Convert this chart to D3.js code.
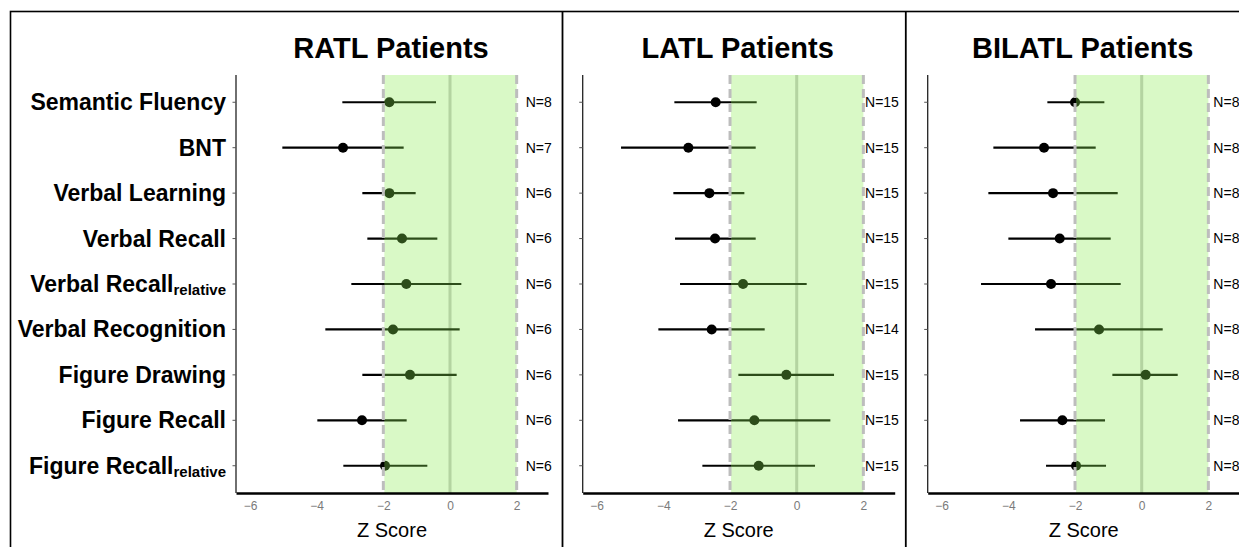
<!DOCTYPE html>
<html>
<head>
<meta charset="utf-8">
<script src="https://cdn.jsdelivr.net/npm/d3@7"></script>
<style>
  html, body { margin: 0; padding: 0; background: #fff; }
  svg { display: block; font-family: "Liberation Sans", Arial, Helvetica, sans-serif; }
</style>
</head>
<body>
<svg id="chart" width="1239" height="547"></svg>
<script>
// Neuropsychological test categories (top to bottom)
const labelMain = ["Semantic Fluency", "BNT", "Verbal Learning", "Verbal Recall", "Verbal Recall",
                   "Verbal Recognition", "Figure Drawing", "Figure Recall", "Figure Recall"];
const labelSub  = ["", "", "", "", "relative", "", "", "", "relative"];
const categories = labelMain.map((d, i) => d + (labelSub[i] ? "_" + labelSub[i] : ""));

// Group titles
const groups = ["RATL Patients", "LATL Patients", "BILATL Patients"];

// RATL: mean z score with lower / upper interval, and sample size
const ratlMean = [-1.82, -3.21, -1.82, -1.44, -1.31, -1.71, -1.20, -2.64, -1.95];
const ratlLow  = [-3.23, -5.03, -2.63, -2.48, -2.96, -3.74, -2.63, -3.98, -3.20];
const ratlHigh = [-0.42, -1.39, -1.03, -0.38,  0.34,  0.29,  0.20, -1.30, -0.68];
const ratlN    = [8, 7, 6, 6, 6, 6, 6, 6, 6];

// LATL
const latlMean = [-2.43, -3.25, -2.62, -2.45, -1.61, -2.55, -0.31, -1.27, -1.14];
const latlLow  = [-3.67, -5.27, -3.70, -3.65, -3.50, -4.15, -1.75, -3.56, -2.83];
const latlHigh = [-1.20, -1.23, -1.57, -1.23,  0.30, -0.96,  1.12,  1.01,  0.55];
const latlN    = [15, 15, 15, 15, 15, 14, 15, 15, 15];

// BILATL
const bilatlMean = [-2.00, -2.93, -2.66, -2.46, -2.72, -1.28,  0.12, -2.38, -1.97];
const bilatlLow  = [-2.83, -4.45, -4.60, -4.00, -4.82, -3.20, -0.88, -3.65, -2.87];
const bilatlHigh = [-1.12, -1.38, -0.72, -0.93, -0.63,  0.63,  1.08, -1.10, -1.07];
const bilatlN    = [8, 8, 8, 8, 8, 8, 8, 8, 8];

// x axis ticks and normal range
const xTicks = [-6, -4, -2, 0, 2];
const normalRange = [-2, 2];

const seriesList = [
  { mean: ratlMean, low: ratlLow, high: ratlHigh, n: ratlN },
  { mean: latlMean, low: latlLow, high: latlHigh, n: latlN },
  { mean: bilatlMean, low: bilatlLow, high: bilatlHigh, n: bilatlN }
];

// ---- layout ----
const svg = d3.select("#chart");
const plotLeft = [236, 582.7, 927.7];
const plotWidth = 312;
const plotTop = 75, plotBottom = 493;
const nLabelZ = [2.27, 2.05, 2.15];
const dividers = [562.5, 905.8];

const y = d3.scalePoint().domain(categories).range([plotTop, plotBottom]).padding(0.6);

// outer frame and panel separators
svg.append("rect")
  .attr("x", 10.5).attr("y", 11.5).attr("width", 1260).attr("height", 560)
  .attr("fill", "none").attr("stroke", "#000").attr("stroke-width", 1.6);
dividers.forEach(xd => {
  svg.append("line").attr("x1", xd).attr("x2", xd).attr("y1", 11.5).attr("y2", 560)
    .attr("stroke", "#000").attr("stroke-width", 1.8);
});

const BLACK = "#000";

groups.forEach((title, p) => {
  const s = seriesList[p];
  const x = d3.scaleLinear().domain([-6.42, 2.94]).range([plotLeft[p], plotLeft[p] + plotWidth]);
  const g = svg.append("g");

  // zero reference line
  g.append("line")
    .attr("x1", x(0)).attr("x2", x(0)).attr("y1", plotTop).attr("y2", plotBottom)
    .attr("stroke", "#c8c8c8").attr("stroke-width", 3);

  // interval segments
  g.selectAll("line.ci").data(categories).join("line")
    .attr("class", "ci")
    .attr("x1", (d, i) => x(s.low[i])).attr("x2", (d, i) => x(s.high[i]))
    .attr("y1", d => y(d)).attr("y2", d => y(d))
    .attr("stroke", BLACK).attr("stroke-width", 2.2);

  // mean points
  g.selectAll("circle.pt").data(categories).join("circle")
    .attr("class", "pt")
    .attr("cx", (d, i) => x(s.mean[i])).attr("cy", d => y(d))
    .attr("r", 5).attr("fill", BLACK);

  // translucent normal-range band laid over the marks
  g.append("rect")
    .attr("x", x(normalRange[0]) + 1).attr("width", x(normalRange[1]) - x(normalRange[0]) - 1)
    .attr("y", plotTop).attr("height", plotBottom - plotTop)
    .attr("fill", "rgb(139,238,80)").attr("fill-opacity", 0.324);

  // dashed range limits
  normalRange.forEach(v => {
    g.append("line")
      .attr("x1", x(v)).attr("x2", x(v)).attr("y1", plotTop).attr("y2", plotBottom)
      .attr("stroke", "#bdbdbd").attr("stroke-width", 3)
      .attr("stroke-dasharray", "9,5");
  });

  // sample size labels
  g.selectAll("text.n").data(categories).join("text")
    .attr("class", "n")
    .attr("x", x(nLabelZ[p])).attr("y", d => y(d))
    .attr("dy", "0.35em")
    .attr("font-size", 14).attr("fill", "#000")
    .text((d, i) => "N=" + s.n[i]);

  // y axis
  const yAxis = g.append("g").attr("transform", `translate(${plotLeft[p]},0)`);
  yAxis.append("line").attr("x1", 0).attr("x2", 0).attr("y1", plotTop).attr("y2", plotBottom)
    .attr("stroke", "#222").attr("stroke-width", 1.3);
  yAxis.selectAll("line.tk").data(categories).join("line")
    .attr("class", "tk")
    .attr("x1", -3.5).attr("x2", 0).attr("y1", d => y(d)).attr("y2", d => y(d))
    .attr("stroke", "#555").attr("stroke-width", 1);

  // x axis
  const xAxis = g.append("g").attr("transform", `translate(0,${plotBottom})`)
    .call(d3.axisBottom(x).tickValues(xTicks).tickSize(0).tickPadding(8).tickFormat(d3.format("d")));
  xAxis.select(".domain").attr("stroke", "#000").attr("stroke-width", 2.4);
  xAxis.selectAll("text")
    .attr("font-size", 12).attr("fill", "#7a7a7a")
    .attr("font-family", "'Liberation Sans', Arial, sans-serif");

  svg.append("text")
    .attr("x", plotLeft[p] + plotWidth / 2).attr("y", 537)
    .attr("text-anchor", "middle").attr("font-size", 20).attr("fill", "#000")
    .text("Z Score");

  // panel title
  svg.append("text")
    .attr("x", plotLeft[p] + plotWidth / 2 - 1).attr("y", 58)
    .attr("text-anchor", "middle").attr("font-size", 29).attr("font-weight", "bold")
    .attr("fill", "#000")
    .text(title);
});

// category labels on the first panel
const lab = svg.append("g").selectAll("text").data(categories).join("text")
  .attr("x", 226).attr("y", d => y(d)).attr("dy", "0.35em")
  .attr("text-anchor", "end").attr("font-weight", "bold").attr("font-size", 23)
  .attr("fill", "#000");
lab.append("tspan").text((d, i) => labelMain[i]);
lab.filter((d, i) => labelSub[i] !== "")
  .append("tspan").attr("font-size", 15).attr("dy", 3)
  .text((d, i) => labelSub[categories.indexOf(d)]);
</script>
</body>
</html>
